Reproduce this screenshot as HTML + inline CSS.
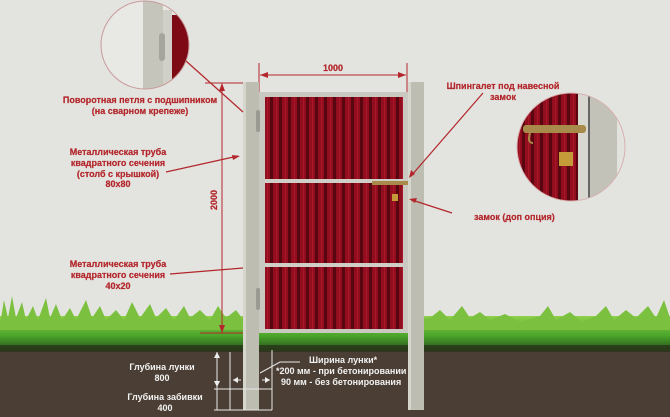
<!DOCTYPE html>
<html><head><meta charset="utf-8"><style>
html,body{margin:0;padding:0;width:670px;height:417px;overflow:hidden;background:#e3e4e0}
svg{display:block}
.r{font-family:"Liberation Sans",sans-serif;font-weight:bold;font-size:9px;fill:#b3262b;stroke:#b3262b;stroke-width:0.2}
.w{font-family:"Liberation Sans",sans-serif;font-weight:bold;font-size:9px;fill:#f2f2f2}
</style></head><body>
<svg width="670" height="417" viewBox="0 0 670 417" xmlns="http://www.w3.org/2000/svg">
<defs>
<pattern id="st" width="9" height="10" patternUnits="userSpaceOnUse">
<rect width="9" height="10" fill="#920e1e"/><rect x="0" width="3" height="10" fill="#58060f"/><rect x="6" width="1" height="10" fill="#a8172a"/>
</pattern>
<linearGradient id="gr" x1="0" y1="0" x2="0" y2="1">
<stop offset="0" stop-color="#8fd04a"/><stop offset="0.55" stop-color="#4aa52a"/><stop offset="1" stop-color="#24461a"/>
</linearGradient>
<clipPath id="c1"><circle cx="145" cy="45" r="44"/></clipPath>
<clipPath id="c2"><circle cx="571" cy="147" r="54"/></clipPath>
</defs>
<rect width="670" height="417" fill="#e3e4e0"/>
<!-- grass -->
<rect x="0" y="316" width="670" height="36" fill="url(#gr)"/>
<path d="M0 325 L4 300 L8 318 L12 296 L16 318 L22 302 L26 320 L33 306 L38 320 L46 298 L50 318 L56 304 L62 320 L70 308 L76 320 L86 300 L92 318 L100 306 L106 320 L116 310 L124 320 L132 302 L140 318 L150 304 L156 318 L166 308 L174 320 L184 306 L190 318 L200 310 L210 320 L218 306 L226 318 L236 310 L245 322 L270 320 L282 310 L290 320 L300 314 L310 320 L330 316 L340 322 L360 318 L380 322 L400 320 L430 318 L440 310 L450 320 L462 306 L470 318 L480 312 L490 320 L505 314 L520 322 L540 316 L548 306 L556 320 L570 312 L582 322 L596 316 L606 306 L614 320 L626 310 L636 318 L648 306 L656 318 L664 300 L670 318 L670 330 L0 330Z" fill="#7cc040"/>
<!-- soil -->
<rect x="0" y="350" width="670" height="67" fill="#4b3f35"/>
<rect x="0" y="345" width="670" height="7" fill="#283418" opacity="0.8"/>
<!-- left dimension lines -->
<line x1="222" y1="83" x2="222" y2="333" stroke="#b3262b" stroke-width="1"/>
<line x1="205" y1="83" x2="245" y2="83" stroke="#b3262b" stroke-width="1"/>
<line x1="200" y1="333" x2="245" y2="333" stroke="#b3262b" stroke-width="1"/>
<polygon points="222,83 219,91 225,91" fill="#b3262b"/>
<polygon points="222,333 219,325 225,325" fill="#b3262b"/>
<text class="r" transform="translate(217,210) rotate(-90)" font-size="10">2000</text>
<!-- top dimension -->
<line x1="259" y1="63" x2="259" y2="92" stroke="#b3262b"/>
<line x1="407" y1="63" x2="407" y2="92" stroke="#b3262b"/>
<line x1="260" y1="75" x2="406" y2="75" stroke="#b3262b"/>
<polygon points="260,75 268,72 268,78" fill="#b3262b"/>
<polygon points="406,75 398,72 398,78" fill="#b3262b"/>
<text class="r" x="333" y="71" text-anchor="middle" font-size="10">1000</text>
<!-- gate -->
<rect x="259" y="92" width="149" height="241" fill="#c9c9c1"/>
<rect x="265" y="97" width="138" height="232" fill="url(#st)"/>
<rect x="265" y="179" width="138" height="4" fill="#cfcfc7"/>
<rect x="265" y="263" width="138" height="4" fill="#cfcfc7"/>
<!-- posts -->
<rect x="243" y="82" width="16" height="328" fill="#bdbdb2"/>
<rect x="243" y="82" width="3" height="328" fill="#d6d6cd"/>
<rect x="408" y="82" width="16" height="328" fill="#bdbdb2"/>
<rect x="408" y="82" width="3" height="328" fill="#d6d6cd"/>
<rect x="256" y="110" width="4" height="22" rx="2" fill="#9a9a92"/>
<rect x="256" y="288" width="4" height="22" rx="2" fill="#9a9a92"/>
<!-- bolt & lock -->
<rect x="372" y="181" width="36" height="4" fill="#a88a4a"/>
<rect x="392" y="194" width="6" height="7" fill="#c59b3a"/>
<!-- soil dims -->
<g stroke="#e8e8e8" stroke-width="1" fill="none">
<line x1="217" y1="352" x2="217" y2="410"/>
<line x1="230" y1="352" x2="230" y2="410"/>
<line x1="272" y1="350" x2="272" y2="410"/>
<line x1="214" y1="389" x2="272" y2="389"/>
<line x1="214" y1="410" x2="272" y2="410"/>
<line x1="262" y1="380" x2="270" y2="380"/>
<line x1="233" y1="380" x2="241" y2="380"/>
<path d="M260 373 L280 362 L300 362"/>
</g>
<polygon points="217,352 214,358 220,358" fill="#eee"/>
<polygon points="217,387 214,381 220,381" fill="#eee"/>
<polygon points="233,380 238,377 238,383" fill="#eee"/>
<polygon points="270,380 265,377 265,383" fill="#eee"/>
<!-- left zoom circle -->
<g clip-path="url(#c1)">
<rect x="100" y="0" width="90" height="90" fill="#e8e8e5"/>
<rect x="143" y="0" width="20" height="90" fill="#c5c5bb"/>
<rect x="163" y="10" width="9" height="80" fill="#d0d0c8"/>
<rect x="172" y="15" width="17" height="75" fill="#7e0a16"/>
<rect x="159" y="33" width="6" height="28" rx="3" fill="#a5a59c"/>
</g>
<circle cx="145" cy="45" r="44" fill="none" stroke="#c99a9a" stroke-width="1"/>
<!-- right zoom circle -->
<g clip-path="url(#c2)">
<rect x="516" y="92" width="62" height="110" fill="url(#st)"/>
<rect x="578" y="92" width="10" height="110" fill="#d8d8d0"/>
<rect x="588" y="92" width="2" height="110" fill="#666"/>
<rect x="590" y="92" width="27" height="110" fill="#c2c2b8"/>
<rect x="617" y="92" width="10" height="110" fill="#e3e3de"/>
<rect x="523" y="125" width="63" height="8" rx="3" fill="#a88a4a"/>
<rect x="559" y="152" width="14" height="14" fill="#c59b3a"/>
<path d="M530 133 q-3 10 3 10" stroke="#a88a4a" stroke-width="2" fill="none"/>
</g>
<circle cx="571" cy="147" r="54" fill="none" stroke="#d8b0b0" stroke-width="1"/>
<!-- leader lines -->
<g stroke="#b3262b" stroke-width="1.2">
<line x1="186" y1="61" x2="243" y2="112"/>
<line x1="166" y1="172" x2="238" y2="156"/>
<line x1="170" y1="274" x2="243" y2="268"/>
<line x1="483" y1="93" x2="411" y2="176"/>
<line x1="452" y1="213" x2="412" y2="200"/>
</g>
<polygon points="240,156 232,155 233,160" fill="#b3262b"/>
<polygon points="409,178 411,170 415,174" fill="#b3262b"/>
<polygon points="409,199 417,198 415,203" fill="#b3262b"/>
<!-- labels -->
<text class="r" text-anchor="middle" x="140" y="103">Поворотная петля с подшипником</text>
<text class="r" text-anchor="middle" x="140" y="114">(на сварном крепеже)</text>
<text class="r" text-anchor="middle" x="118" y="155">Металлическая труба</text>
<text class="r" text-anchor="middle" x="118" y="166">квадратного сечения</text>
<text class="r" text-anchor="middle" x="118" y="177">(столб с крышкой)</text>
<text class="r" text-anchor="middle" x="118" y="187">80x80</text>
<text class="r" text-anchor="middle" x="118" y="267">Металлическая труба</text>
<text class="r" text-anchor="middle" x="118" y="278">квадратного сечения</text>
<text class="r" text-anchor="middle" x="118" y="289">40x20</text>
<text class="r" text-anchor="middle" x="503" y="89">Шпингалет под навесной</text>
<text class="r" text-anchor="middle" x="503" y="100">замок</text>
<text class="r" x="474" y="220">замок (доп опция)</text>
<text class="w" text-anchor="middle" x="162" y="370">Глубина лунки</text>
<text class="w" text-anchor="middle" x="162" y="381">800</text>
<text class="w" text-anchor="middle" x="165" y="400">Глубина забивки</text>
<text class="w" text-anchor="middle" x="165" y="411">400</text>
<text class="w" x="309" y="363">Ширина лунки*</text>
<text class="w" x="276" y="374">*200 мм - при бетонировании</text>
<text class="w" x="281" y="385">90 мм - без бетонирования</text>
</svg>
</body></html>
